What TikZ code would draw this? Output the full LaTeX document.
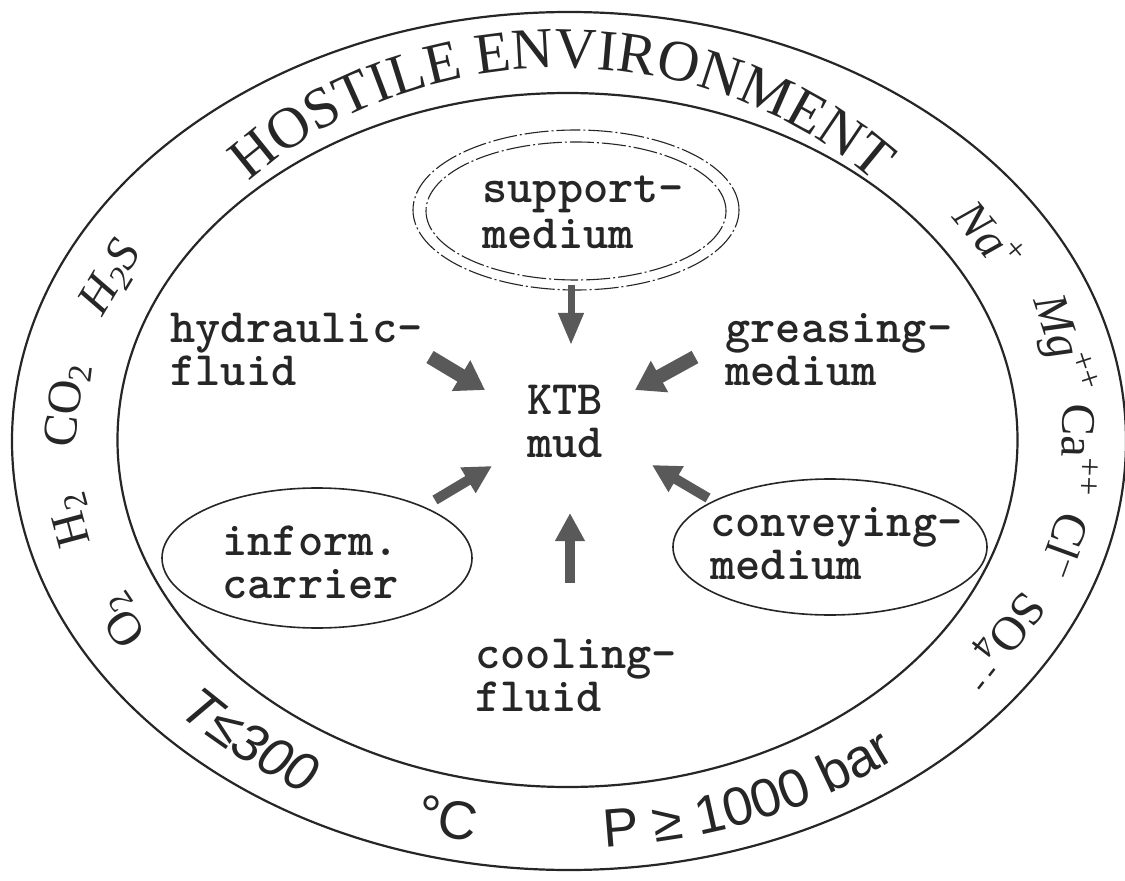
\documentclass[tikz,border=0pt]{standalone}
\usepackage{fontspec}
\setmainfont{Liberation Serif}
\newfontfamily\bandsans{Liberation Sans}
\usetikzlibrary{arrows.meta,decorations.text}
\definecolor{ink}{HTML}{262626}
\definecolor{arrowgray}{HTML}{595959}
\newcommand\hostfont{\fontsize{29}{29}\selectfont}
\newcommand\botfont{\bandsans\fontsize{27}{27}\selectfont}
\begin{document}
\begin{tikzpicture}[x=0.5pt,y=0.5pt,
  ring/.style={draw=ink,line width=1.1pt},
  oval/.style={draw=ink,line width=0.8pt},
  dashoval/.style={draw=ink,line width=0.55pt,dash pattern=on 12pt off 1.5pt on 1pt off 1.5pt},
  lbl/.style={font=\fontsize{24}{21.5}\selectfont\ttfamily\bfseries,text=ink,align=left,inner sep=0pt,anchor=west},
  chem/.style={font=\fontsize{24}{24}\selectfont,text=ink,inner sep=0pt},
  fatarrow/.style={draw=arrowgray,line width=7pt,-{Triangle[length=14pt,width=17pt]}},
  midarrow/.style={draw=arrowgray,line width=5pt,-{Triangle[length=14pt,width=14pt]}},
  slimarrow/.style={draw=arrowgray,line width=3.5pt,-{Triangle[length=16pt,width=12pt]}},
  bandtext/.style={decorate,decoration={text along path,text color=ink,#1}}
]
\useasboundingbox (0,0) rectangle (1125,880);
\fill[white] (0,0) rectangle (1125,880);

% rings
\draw[ring] (569,439) ellipse [x radius=278.5pt, y radius=214.5pt];
\draw[ring] (567.5,440) ellipse [x radius=225pt, y radius=173.5pt];

% band texts
\path[bandtext={text={|\hostfont|HOSTILE ENVIRONMENT},text align=center}]
  (562,440) ++(178:217pt and 186pt) arc[start angle=178,end angle=2,x radius=217pt,y radius=186pt];
\path[bandtext={text={|\botfont\itshape|T≤300}}]
  (568,440) ++(222:262.5pt and 204pt) arc[start angle=222,end angle=251,x radius=262.5pt,y radius=204pt];
\path[bandtext={text={|\botfont|°C}}]
  (568,440) ++(253:262.5pt and 204pt) arc[start angle=253,end angle=268,x radius=262.5pt,y radius=204pt];
\path[bandtext={text={|\botfont|P ≥ 1000 bar}}]
  (568,440) ++(274:262.5pt and 204pt) arc[start angle=274,end angle=328,x radius=262.5pt,y radius=204pt];

% gases (left)
\node[chem,rotate=59] (h2s) at (112,602) {\textit{H\textsubscript{2}S}};
\node[chem,rotate=83] (co2) at (68,475) {CO\textsubscript{2}};
\node[chem,rotate=105] (h2) at (72,360) {H\textsubscript{2}};
\node[chem,rotate=124] (o2) at (123,260) {O\textsubscript{2}};
% ions (right)
\node[chem,rotate=-50.5] (na) at (990,645) {\textit{Na}\textsuperscript{+}};
\node[chem,rotate=-72] (mg) at (1062,535) {\textit{Mg}\textsuperscript{++}};
\node[chem,rotate=-92] (ca) at (1080,430) {Ca\textsuperscript{++}};
\node[chem,rotate=-110] (cl) at (1065,335) {Cl\textsuperscript{--}};
\node[chem,rotate=-128] (so4) at (1000,240) {SO\textsubscript{4}\textsuperscript{-\,-}};

% ovals
\draw[dashoval] (576,670) ellipse [x radius=81.5pt, y radius=40pt];
\draw[dashoval] (576,669) ellipse [x radius=75pt, y radius=34.5pt];
\draw[oval] (317,322) ellipse [x radius=77.5pt, y radius=35pt];
\draw[oval] (830,333) ellipse [x radius=78.5pt, y radius=34pt];

% labels
\node[lbl,font=\fontsize{24}{23}\selectfont\ttfamily\bfseries] (support) at (482,668) {support-\\medium};
\node[lbl] (hydraulic) at (170,530.5) {hydraulic-\\fluid};
\node[lbl] (greasing) at (725,530) {greasing-\\medium};
\node[lbl,anchor=center,align=center] (ktb) at (565,458.5) {KTB\\mud};
\node[lbl] (inform) at (222,318) {inform.\\carrier};
\node[lbl] (conveying) at (710,336) {conveying-\\medium};
\node[lbl] (cooling) at (475,205) {cooling-\\fluid};

% arrows
\coordinate (sA) at (571,595); \coordinate (eA) at (571,535);
\coordinate (sB) at (430,523); \coordinate (eB) at (485,490);
\coordinate (sC) at (695,523); \coordinate (eC) at (635,490);
\coordinate (sD) at (435,380); \coordinate (eD) at (492,414);
\coordinate (sE) at (708,382); \coordinate (eE) at (652,415);
\coordinate (sF) at (570,297); \coordinate (eF) at (570,367);
\draw[slimarrow] (sA) -- (eA);
\draw[fatarrow] (sB) -- (eB);
\draw[fatarrow] (sC) -- (eC);
\draw[midarrow] (sD) -- (eD);
\draw[midarrow] (sE) -- (eE);
\draw[midarrow] (sF) -- (eF);
\end{tikzpicture}
\end{document}
